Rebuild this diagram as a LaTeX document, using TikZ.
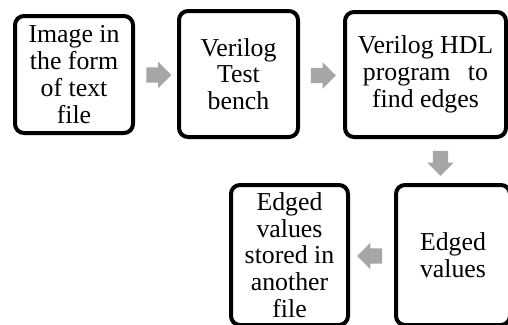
\documentclass[tikz,border=0pt]{standalone}
\usepackage{fontspec}
\setmainfont{Liberation Serif}
\usetikzlibrary{shapes.arrows}
\begin{document}
\begin{tikzpicture}[x=1pt,y=-1pt,
  stagebox/.style={draw=black, line width=4pt, rounded corners=9pt, fill=white,
    align=center, inner sep=0pt, font=\fontsize{25.8}{26.8}\selectfont},
  flowarrow/.style={single arrow, fill=black!35, draw=none, inner xsep=0pt,
    inner ysep=7.5pt, minimum height=25pt, single arrow head extend=5.5pt,
    single arrow head indent=0pt, anchor=center},
  downarrow/.style={flowarrow, shape border rotate=270, inner xsep=7.5pt, inner ysep=0pt}]
  \useasboundingbox (0,0) rectangle (508,324);
  \clip (0,0) rectangle (508,324);

  % processing stages
  \node[stagebox, minimum width=118pt, minimum height=117pt] (img) at (74,74.5)
    {Image in\\the form\\of text\\file};
  \node[stagebox, minimum width=119pt, minimum height=126pt] (tb) at (238.5,74)
    {Verilog\\Test\\bench};
  \node[stagebox, minimum width=161pt, minimum height=125pt] (hdl) at (425.5,74.5)
    {Verilog HDL\\program\hspace{0.68em}to\\find edges};
  \node[stagebox, minimum width=114pt, minimum height=140pt] (edg) at (453,255)
    {Edged\\values};
  \node[stagebox, minimum width=117pt, minimum height=140pt] (out) at (289.5,255)
    {Edged\\values\\stored in\\another\\file};

  % block arrows between the stages
  \node[flowarrow] (a1) at (155,75) {};
  \node[flowarrow] (a2) at (319.5,75.5) {};
  \node[downarrow] (a3) at (440.5,159.5) {};
  \node[flowarrow, shape border rotate=180] (a4) at (373.5,256) {};
\end{tikzpicture}
\end{document}
